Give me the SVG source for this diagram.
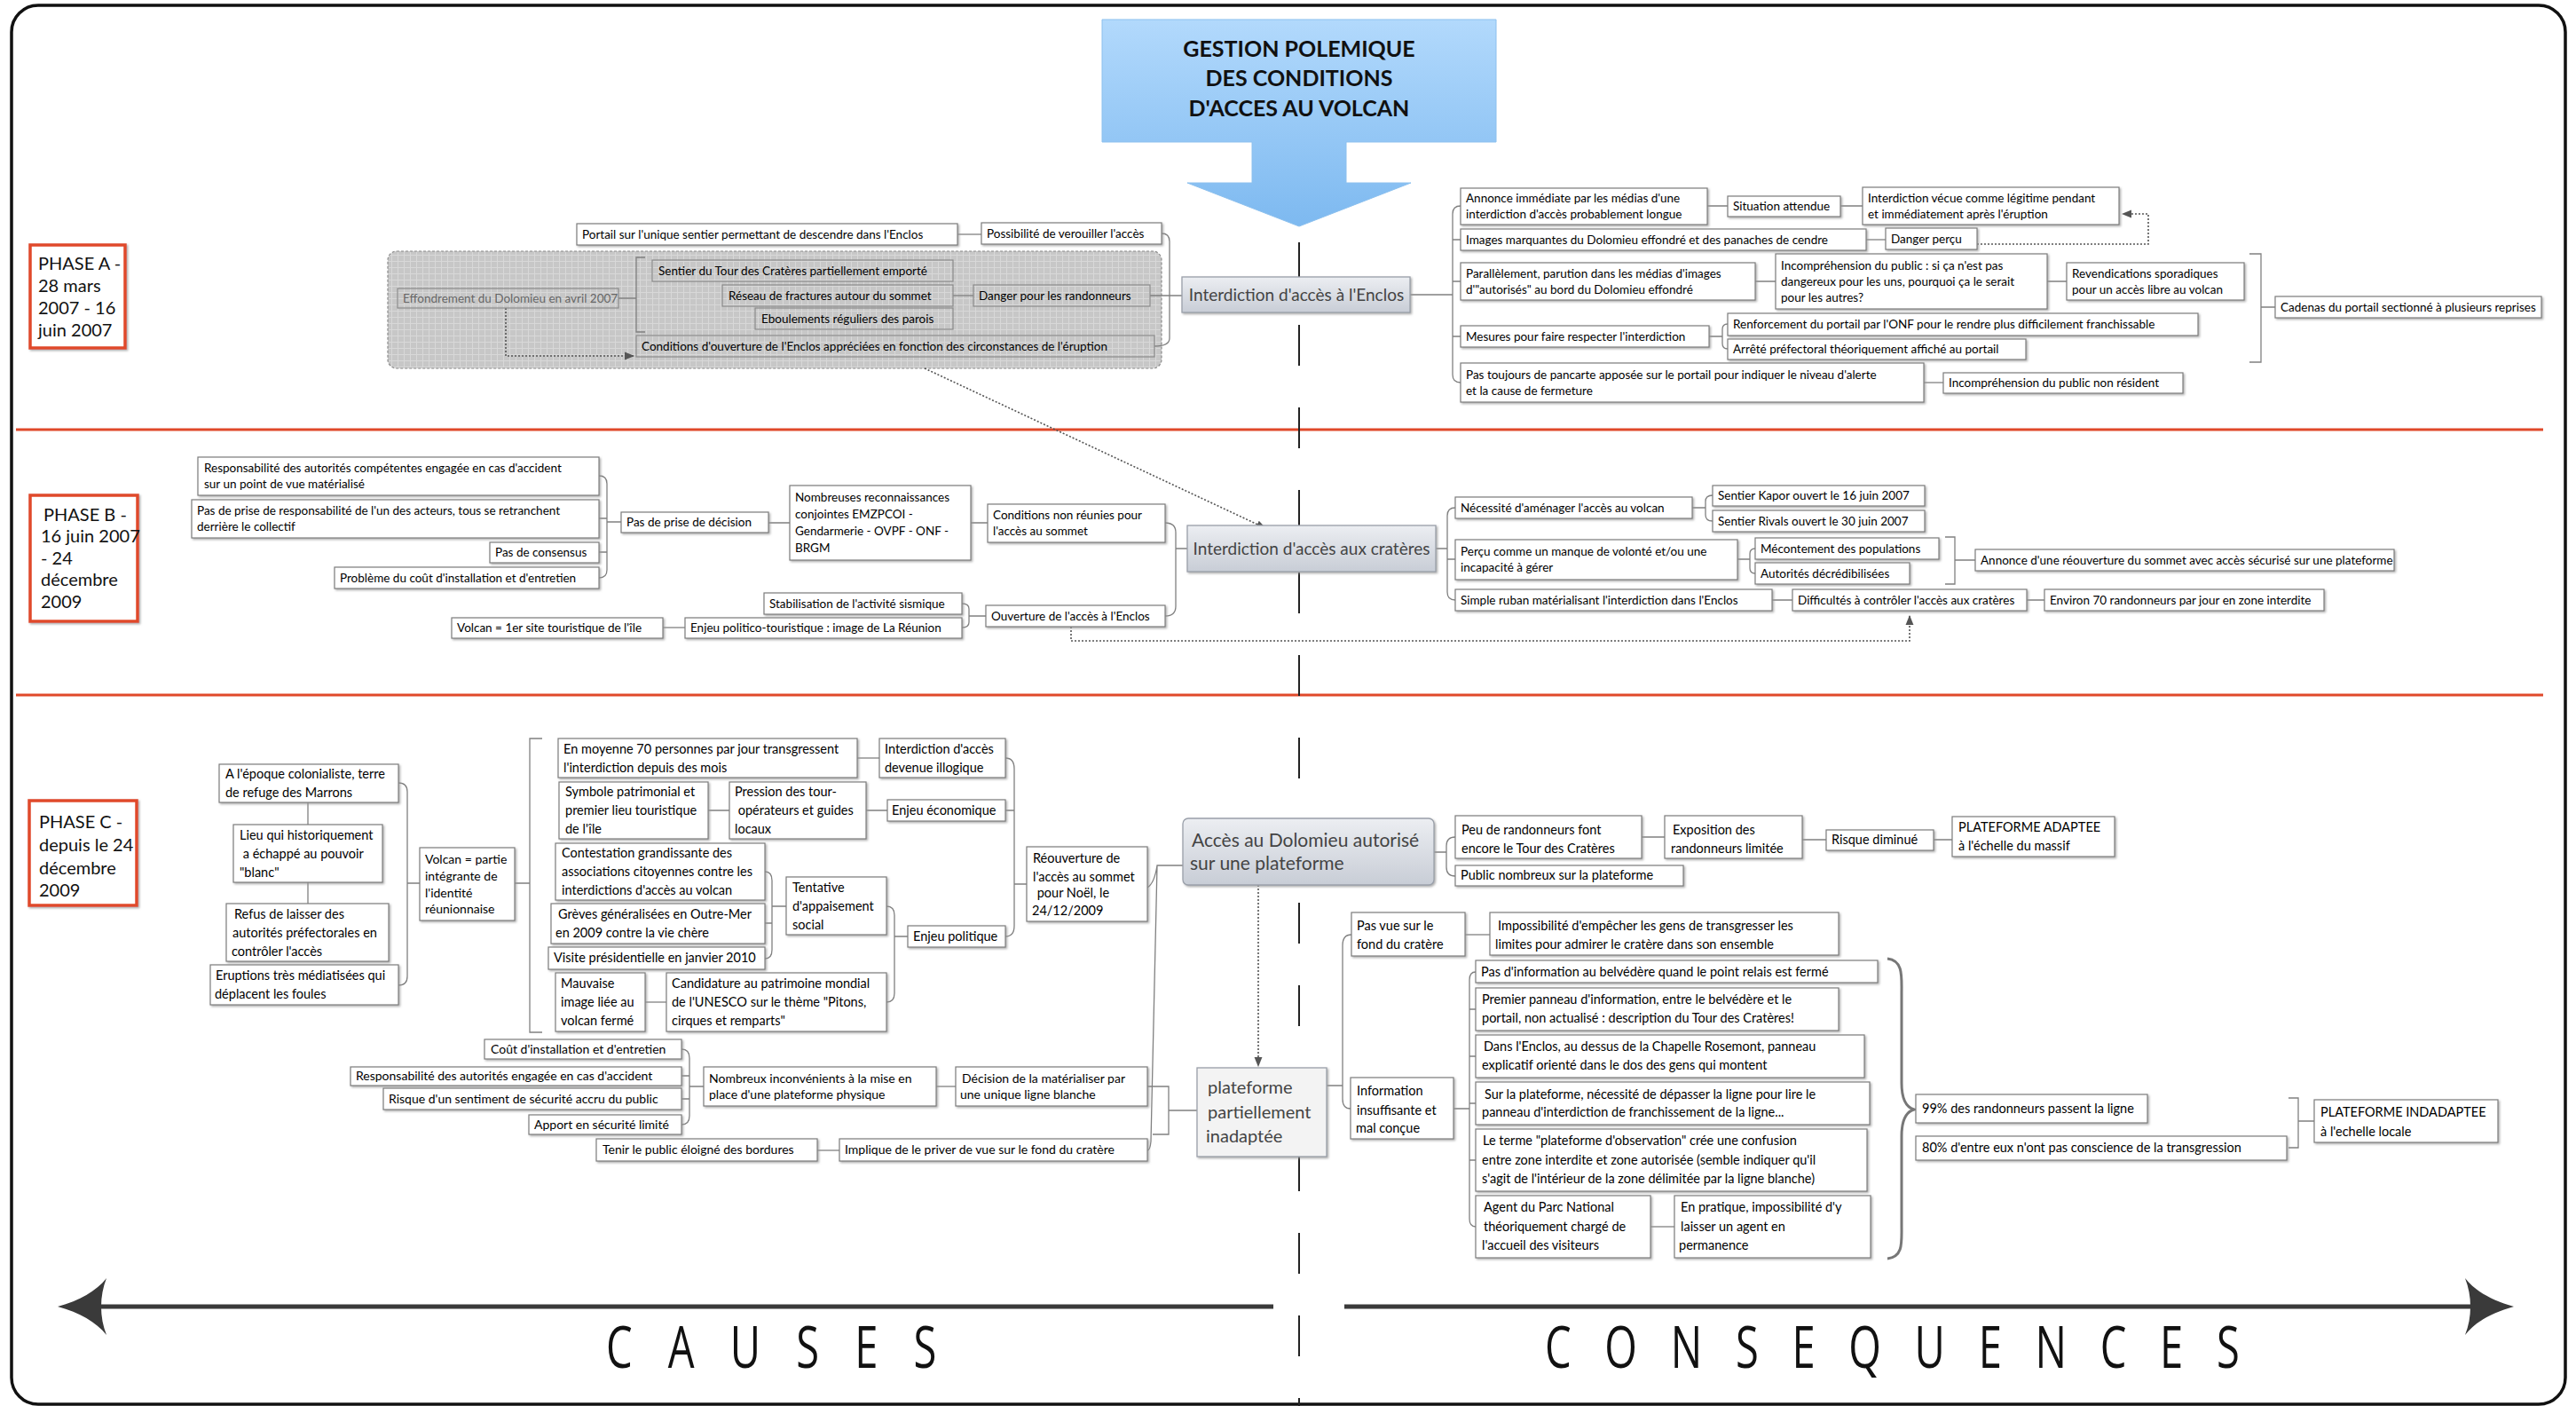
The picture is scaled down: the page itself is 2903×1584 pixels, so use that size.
<svg xmlns="http://www.w3.org/2000/svg" width="2903" height="1584" viewBox="0 0 2903 1584">
<style>
.b{fill:#fff;stroke:#7d7d7d;stroke-width:1.2;filter:url(#sh)}
.g{fill:none;stroke:#8a8a8a;stroke-width:1.2}
.t{font-family:Lato,"Liberation Sans",sans-serif;font-size:13.5px;fill:#000}
.m{font-size:14px}
.l{font-size:14.5px}
.gt{fill:#666}
.c{fill:none;stroke:#808080;stroke-width:1.3}
.d{fill:none;stroke:#555;stroke-width:1.6;stroke-dasharray:2 2}
.ph{fill:#fff;stroke:#e0482a;stroke-width:3.5;filter:url(#sh)}
.pt{font-family:Lato,"Liberation Sans",sans-serif;font-size:20px;fill:#111}
.cn{stroke:#9aa0aa;stroke-width:1.3;filter:url(#sh)}
.ct{font-family:Lato,"Liberation Sans",sans-serif;font-size:19px;fill:#444}
.big{font-family:Lato,"Liberation Sans",sans-serif;font-size:20px;fill:#444}
.red{stroke:#e0492a;stroke-width:3}
.cap{font-family:"Open Sans","Liberation Sans",sans-serif;font-size:62px;fill:#111}
</style>
<defs>
<filter id="sh" x="-5%" y="-10%" width="110%" height="130%"><feDropShadow dx="1.5" dy="1.5" stdDeviation="0.8" flood-color="#999" flood-opacity="0.8"/></filter>
<linearGradient id="bl" x1="0" y1="0" x2="0" y2="1"><stop offset="0" stop-color="#b2d9fc"/><stop offset="1" stop-color="#7db9f0"/></linearGradient>
<linearGradient id="cg" x1="0" y1="0" x2="0" y2="1"><stop offset="0" stop-color="#eceef2"/><stop offset="1" stop-color="#c8cdd6"/></linearGradient>
<pattern id="grid" width="7" height="7" patternUnits="userSpaceOnUse"><rect width="7" height="7" fill="#c7c7c7"/><path d="M0 0.5H7M0.5 0V7" stroke="#d8d8d8" stroke-width="1"/></pattern>
<marker id="ah" viewBox="0 0 10 10" refX="9" refY="5" markerWidth="7" markerHeight="7" orient="auto-start-reverse"><path d="M0,1 L10,5 L0,9 Z" fill="#555"/></marker>
</defs>
<rect width="2903" height="1584" fill="#fff"/>
<rect x="13" y="6" width="2878" height="1576" rx="30" fill="none" stroke="#111" stroke-width="3.5"/>

<!-- separators and axis -->
<g id="axis">
<line x1="18" y1="484" x2="2866" y2="484" class="red"/>
<line x1="18" y1="783" x2="2866" y2="783" class="red"/>
<line x1="1464" y1="273" x2="1464" y2="1584" stroke="#222" stroke-width="2" stroke-dasharray="46 47"/>
<line x1="108" y1="1472" x2="1435" y2="1472" stroke="#3a3a3a" stroke-width="5"/>
<line x1="1515" y1="1472" x2="2790" y2="1472" stroke="#3a3a3a" stroke-width="5"/>
<path d="M65,1472 C90,1465 108,1455 120,1440 C112,1460 112,1484 120,1504 C108,1489 90,1479 65,1472 Z" fill="#3a3a3a"/>
<path d="M2833,1472 C2808,1465 2790,1455 2778,1440 C2786,1460 2786,1484 2778,1504 C2790,1489 2808,1479 2833,1472 Z" fill="#3a3a3a"/>
<text class="cap" transform="translate(683,1541) scale(0.76,1.05)" textLength="490" lengthAdjust="spacing">CAUSES</text>
<text class="cap" transform="translate(1741,1541) scale(0.76,1.05)" textLength="1030" lengthAdjust="spacing">CONSEQUENCES</text>
</g>

<!-- title -->
<g id="title">
<path d="M1242,22 H1686 V160 H1517 V206 H1590 L1464,255 L1338,206 H1411 V160 H1242 Z" fill="url(#bl)" stroke="#8cc0ee" stroke-width="1"/>
<text font-family="Lato,'Liberation Sans',sans-serif" font-weight="bold" font-size="25" fill="#111" text-anchor="middle"><tspan x="1464" y="64">GESTION POLEMIQUE</tspan><tspan x="1464" y="97">DES CONDITIONS</tspan><tspan x="1464" y="131">D'ACCES AU VOLCAN</tspan></text>
</g>

<!-- phase labels -->
<g id="phaseA"><rect class="ph" x="34" y="276" width="107" height="116"/><text class="pt"><tspan x="43" y="304">PHASE A -</tspan><tspan x="43" y="329">28 mars</tspan><tspan x="43" y="354">2007 - 16</tspan><tspan x="43" y="379">juin 2007</tspan></text></g>
<g id="phaseB"><rect class="ph" x="34" y="558" width="121" height="142"/><text class="pt"><tspan x="49" y="587">PHASE B -</tspan><tspan x="46" y="611">16 juin 2007</tspan><tspan x="46" y="636">- 24</tspan><tspan x="46" y="660">décembre</tspan><tspan x="46" y="685">2009</tspan></text></g>
<g id="phaseC"><rect class="ph" x="33" y="902" width="121" height="118"/><text class="pt"><tspan x="44" y="933">PHASE C -</tspan><tspan x="44" y="959">depuis le 24</tspan><tspan x="44" y="985">décembre</tspan><tspan x="44" y="1010">2009</tspan></text></g>

<!-- gray group region -->
<rect id="grayzone" x="437" y="283" width="872" height="132" rx="10" fill="url(#grid)" stroke="#8a8a8a" stroke-width="1.2" stroke-dasharray="3 2"/>

<!-- connectors -->
<g id="connectors">
<path class="c" d="M697,336 H717 M727,290 H717 V374 H727"/>
<path class="d" d="M570,347 V401 H714" marker-end="url(#ah)"/>
<path class="c" d="M1079,264 H1106"/>
<path class="c" d="M1074,333 H1097"/>
<path class="c" d="M1309,263 Q1318,263 1318,272 V381 Q1318,390 1301,390 M1296,333 H1332"/>
<path class="c" d="M1589,332 H1637 M1646,232 Q1637,232 1637,241 V422 Q1637,431 1646,431 M1637,270 H1646 M1637,317 H1646 M1637,379 H1646"/>
<path class="c" d="M1924,232 H1947 M2074,232 H2099"/>
<path class="c" d="M2103,270 H2125"/>
<path class="d" d="M2228,275 H2421 V241 H2392" marker-end="url(#ah)"/>
<path class="c" d="M1978,317 H2001 M2307,317 H2329"/>
<path class="c" d="M2535,286 H2548 V408 H2535 M2548,346 H2564"/>
<path class="c" d="M1926,379 H1941 M1947,365 Q1941,365 1941,371 V387 Q1941,393 1947,393"/>
<path class="c" d="M2168,431 H2190"/>
<path class="d" d="M1042,415 L1426,595" marker-end="url(#ah)"/>
<path class="c" d="M675,536 Q684,536 684,545 V642 Q684,651 675,651 M675,584 H684 M675,622 H684 M684,588 H700"/>
<path class="c" d="M866,589 H890 M1094,589 H1113"/>
<path class="c" d="M747,707 H772"/>
<path class="c" d="M1084,680 Q1092,680 1092,686 V701 Q1092,707 1084,707 M1092,694 H1111"/>
<path class="c" d="M1313,589 Q1325,589 1325,600 V683 Q1325,694 1313,694 M1325,618 H1338"/>
<path class="d" d="M1207,706 V722 H2152 V694" marker-end="url(#ah)"/>
<path class="c" d="M1618,618 H1631 M1640,572 Q1631,572 1631,581 V667 Q1631,676 1640,676 M1631,630 H1640"/>
<path class="c" d="M1907,572 H1922 M1930,558 Q1922,558 1922,565 V580 Q1922,587 1930,587"/>
<path class="c" d="M1958,630 H1972 M1978,618 Q1972,618 1972,624 V640 Q1972,646 1978,646"/>
<path class="c" d="M2192,605 H2203 V658 H2192 M2203,631 H2226"/>
<path class="c" d="M1997,676 H2020 M2284,676 H2304"/>
<path class="c" d="M347,904 V929 M347,994 V1018"/>
<path class="c" d="M449,882 Q459,882 459,892 V1100 Q459,1110 449,1110 M459,995 H473"/>
<path class="c" d="M580,995 H597 M611,832 H597 V1163 H611"/>
<path class="c" d="M966,854 H991"/>
<path class="c" d="M798,913 H822 M976,913 H1000"/>
<path class="c" d="M862,982 Q870,982 870,992 V1070 Q870,1080 862,1080 M862,1040 H870 M870,1021 H886"/>
<path class="c" d="M727,1129 H751"/>
<path class="c" d="M999,1021 Q1008,1021 1008,1031 V1119 Q1008,1129 999,1129 M1008,1055 H1023"/>
<path class="c" d="M1133,854 Q1143,854 1143,866 V1043 Q1143,1055 1133,1055 M1133,913 H1143 M1143,996 H1157"/>
<path class="c" d="M1293,1000 Q1301,995 1304,975 H1333 M1304,975 L1297,1286 Q1296,1296 1293,1296"/>
<path class="c" d="M768,1182 Q777,1182 777,1192 V1257 Q777,1267 768,1267 M768,1212 H777 M768,1238 H777 M777,1224 H793"/>
<path class="c" d="M1055,1224 H1077"/>
<path class="c" d="M1293,1224 H1317 V1278 H1299 M1317,1251 H1349"/>
<path class="c" d="M921,1296 H946"/>
<path class="c" d="M1616,960 H1630 M1640,943 Q1630,943 1630,953 V977 Q1630,987 1640,987"/>
<path class="c" d="M1850,943 H1876 M2031,946 H2058 M2179,946 H2200"/>
<path class="d" d="M1418,997 V1201" marker-end="url(#ah)"/>
<path class="c" d="M1495,1223 H1513 M1523,1053 Q1513,1053 1513,1065 V1238 Q1513,1249 1522,1249"/>
<path class="c" d="M1651,1053 H1679"/>
<path class="c" d="M1638,1249 H1656 M1663,1095 Q1656,1095 1656,1104 V1373 Q1656,1382 1663,1382 M1656,1137 H1663 M1656,1190 H1663 M1656,1243 H1663 M1656,1307 H1663"/>
<path class="c" d="M1860,1382 H1887"/>
<path d="M2127,1080 C2145,1082 2143,1100 2143,1120 V1220 C2143,1240 2150,1248 2157,1250 C2150,1252 2143,1260 2143,1280 V1380 C2143,1400 2145,1416 2127,1418" fill="none" stroke="#777" stroke-width="3"/>
<path class="c" d="M2579,1237 H2590 V1293 H2579 M2590,1263 H2608"/>
</g>

<!-- PHASE A nodes -->
<g id="nA1"><rect class="b" x="650" y="252" width="429" height="24"/><text class="t" x="656" y="269">Portail sur l'unique sentier permettant de descendre dans l'Enclos</text></g>
<g id="nA2"><rect class="b" x="1106" y="251" width="203" height="24"/><text class="t" x="1112" y="268">Possibilité de verouiller l'accès</text></g>
<g id="nA3"><rect class="g" x="448" y="325" width="249" height="22"/><text class="t gt" x="454" y="341">Effondrement du Dolomieu en avril 2007</text></g>
<g id="nA4"><rect class="g" x="735" y="293" width="339" height="24"/><text class="t" x="742" y="310">Sentier du Tour des Cratères partiellement emporté</text></g>
<g id="nA5"><rect class="g" x="814" y="321" width="260" height="24"/><text class="t" x="821" y="338">Réseau de fractures autour du sommet</text></g>
<g id="nA6"><rect class="g" x="851" y="347" width="223" height="24"/><text class="t" x="858" y="364">Eboulements réguliers des parois</text></g>
<g id="nA7"><rect class="g" x="1097" y="321" width="199" height="24"/><text class="t" x="1103" y="338">Danger pour les randonneurs</text></g>
<g id="nA8"><rect class="g" x="717" y="378" width="584" height="24"/><text class="t" x="723" y="395">Conditions d'ouverture de l'Enclos appréciées en fonction des circonstances de l'éruption</text></g>
<g id="centerA"><rect class="cn" x="1332" y="312" width="257" height="40" fill="url(#cg)"/><text class="ct" x="1461" y="339" text-anchor="middle">Interdiction d'accès à l'Enclos</text></g>
<g id="nA9"><rect class="b" x="1646" y="212" width="278" height="41"/><text class="t"><tspan x="1652" y="228">Annonce immédiate par les médias d'une</tspan><tspan x="1652" y="246">interdiction d'accès probablement longue</tspan></text></g>
<g id="nA10"><rect class="b" x="1947" y="221" width="127" height="23"/><text class="t" x="1953" y="237">Situation attendue</text></g>
<g id="nA11"><rect class="b" x="2099" y="211" width="289" height="42"/><text class="t"><tspan x="2105" y="228">Interdiction vécue comme légitime pendant</tspan><tspan x="2105" y="246">et immédiatement après l'éruption</tspan></text></g>
<g id="nA12"><rect class="b" x="1646" y="258" width="457" height="24"/><text class="t" x="1652" y="275">Images marquantes du Dolomieu effondré et des panaches de cendre</text></g>
<g id="nA13"><rect class="b" x="2125" y="257" width="103" height="24"/><text class="t" x="2131" y="274">Danger perçu</text></g>
<g id="nA14"><rect class="b" x="1646" y="296" width="332" height="42"/><text class="t"><tspan x="1652" y="313">Parallèlement, parution dans les médias d'images</tspan><tspan x="1652" y="331">d'"autorisés" au bord du Dolomieu effondré</tspan></text></g>
<g id="nA15"><rect class="b" x="2001" y="286" width="306" height="62"/><text class="t"><tspan x="2007" y="304">Incompréhension du public : si ça n'est pas</tspan><tspan x="2007" y="322">dangereux pour les uns, pourquoi ça le serait</tspan><tspan x="2007" y="340">pour les autres?</tspan></text></g>
<g id="nA16"><rect class="b" x="2329" y="296" width="200" height="42"/><text class="t"><tspan x="2335" y="313">Revendications sporadiques</tspan><tspan x="2335" y="331">pour un accès libre au volcan</tspan></text></g>
<g id="nA17"><rect class="b" x="2564" y="334" width="300" height="24"/><text class="t" x="2570" y="351">Cadenas du portail sectionné à plusieurs reprises</text></g>
<g id="nA18"><rect class="b" x="1646" y="367" width="280" height="24"/><text class="t" x="1652" y="384">Mesures pour faire respecter l'interdiction</text></g>
<g id="nA19"><rect class="b" x="1947" y="353" width="530" height="25"/><text class="t" x="1953" y="370">Renforcement du portail par l'ONF pour le rendre plus difficilement franchissable</text></g>
<g id="nA20"><rect class="b" x="1947" y="382" width="336" height="23"/><text class="t" x="1953" y="398">Arrêté préfectoral théoriquement affiché au portail</text></g>
<g id="nA21"><rect class="b" x="1646" y="409" width="522" height="44"/><text class="t"><tspan x="1652" y="427">Pas toujours de pancarte apposée sur le portail pour indiquer le niveau d'alerte</tspan><tspan x="1652" y="445">et la cause de fermeture</tspan></text></g>
<g id="nA22"><rect class="b" x="2190" y="420" width="270" height="23"/><text class="t" x="2196" y="436">Incompréhension du public non résident</text></g>

<!-- PHASE B nodes -->
<g id="nB1"><rect class="b" x="223" y="515" width="452" height="43"/><text class="t"><tspan x="230" y="532">Responsabilité des autorités compétentes engagée en cas d'accident</tspan><tspan x="230" y="550">sur un point de vue matérialisé</tspan></text></g>
<g id="nB2"><rect class="b" x="216" y="563" width="459" height="43"/><text class="t"><tspan x="222" y="580">Pas de prise de responsabilité de l'un des acteurs, tous se retranchent</tspan><tspan x="222" y="598">derrière le collectif</tspan></text></g>
<g id="nB3"><rect class="b" x="552" y="611" width="123" height="23"/><text class="t" x="558" y="627">Pas de consensus</text></g>
<g id="nB4"><rect class="b" x="377" y="639" width="298" height="24"/><text class="t" x="383" y="656">Problème du coût d'installation et d'entretien</text></g>
<g id="nB5"><rect class="b" x="700" y="577" width="166" height="23"/><text class="t" x="706" y="593">Pas de prise de décision</text></g>
<g id="nB6"><rect class="b" x="890" y="547" width="204" height="84"/><text class="t"><tspan x="896" y="565">Nombreuses reconnaissances</tspan><tspan x="896" y="584">conjointes EMZPCOI -</tspan><tspan x="896" y="603">Gendarmerie - OVPF - ONF -</tspan><tspan x="896" y="622">BRGM</tspan></text></g>
<g id="nB7"><rect class="b" x="1113" y="568" width="200" height="43"/><text class="t"><tspan x="1119" y="585">Conditions non réunies pour</tspan><tspan x="1119" y="603">l'accès au sommet</tspan></text></g>
<g id="nB8"><rect class="b" x="861" y="668" width="223" height="24"/><text class="t" x="867" y="685">Stabilisation de l'activité sismique</text></g>
<g id="nB9"><rect class="b" x="772" y="696" width="312" height="23"/><text class="t" x="778" y="712">Enjeu politico-touristique : image de La Réunion</text></g>
<g id="nB10"><rect class="b" x="509" y="696" width="238" height="23"/><text class="t" x="515" y="712">Volcan = 1er site touristique de l'île</text></g>
<g id="nB11"><rect class="b" x="1111" y="682" width="202" height="24"/><text class="t" x="1117" y="699">Ouverture de l'accès à l'Enclos</text></g>
<g id="centerB"><rect class="cn" x="1338" y="592" width="280" height="52" fill="url(#cg)"/><text class="ct" x="1478" y="625" text-anchor="middle">Interdiction d'accès aux cratères</text></g>
<g id="nB12"><rect class="b" x="1640" y="560" width="267" height="24"/><text class="t" x="1646" y="577">Nécessité d'aménager l'accès au volcan</text></g>
<g id="nB13"><rect class="b" x="1930" y="547" width="239" height="23"/><text class="t" x="1936" y="563">Sentier Kapor ouvert le 16 juin 2007</text></g>
<g id="nB14"><rect class="b" x="1930" y="575" width="239" height="24"/><text class="t" x="1936" y="592">Sentier Rivals ouvert le 30 juin 2007</text></g>
<g id="nB15"><rect class="b" x="1640" y="608" width="318" height="45"/><text class="t"><tspan x="1646" y="626">Perçu comme un manque de volonté et/ou une</tspan><tspan x="1646" y="644">incapacité à gérer</tspan></text></g>
<g id="nB16"><rect class="b" x="1978" y="606" width="207" height="24"/><text class="t" x="1984" y="623">Mécontement des populations</text></g>
<g id="nB17"><rect class="b" x="1978" y="634" width="174" height="24"/><text class="t" x="1984" y="651">Autorités décrédibilisées</text></g>
<g id="nB18"><rect class="b" x="2226" y="619" width="472" height="24"/><text class="t" x="2232" y="636">Annonce d'une réouverture du sommet avec accès sécurisé sur une plateforme</text></g>
<g id="nB19"><rect class="b" x="1640" y="664" width="357" height="24"/><text class="t" x="1646" y="681">Simple ruban matérialisant l'interdiction dans l'Enclos</text></g>
<g id="nB20"><rect class="b" x="2020" y="664" width="264" height="24"/><text class="t" x="2026" y="681">Difficultés à contrôler l'accès aux cratères</text></g>
<g id="nB21"><rect class="b" x="2304" y="664" width="315" height="24"/><text class="t" x="2310" y="681">Environ 70 randonneurs par jour en zone interdite</text></g>

<!-- PHASE C left nodes -->
<g id="nC1"><rect class="b" x="247" y="861" width="202" height="43"/><text class="t l"><tspan x="254" y="877">A l'époque colonialiste, terre</tspan><tspan x="254" y="898">de refuge des Marrons</tspan></text></g>
<g id="nC2"><rect class="b" x="263" y="929" width="168" height="65"/><text class="t l"><tspan x="270" y="946">Lieu qui historiquement</tspan><tspan x="270" y="967"> a échappé au pouvoir</tspan><tspan x="270" y="988">"blanc"</tspan></text></g>
<g id="nC3"><rect class="b" x="255" y="1018" width="183" height="65"/><text class="t l"><tspan x="264" y="1035">Refus de laisser des</tspan><tspan x="262" y="1056">autorités préfectorales en</tspan><tspan x="261" y="1077">contrôler l'accès</tspan></text></g>
<g id="nC4"><rect class="b" x="237" y="1087" width="212" height="45"/><text class="t l"><tspan x="243" y="1104">Eruptions très médiatisées qui</tspan><tspan x="242" y="1125">déplacent les foules</tspan></text></g>
<g id="nC5"><rect class="b" x="473" y="955" width="107" height="82"/><text class="t m"><tspan x="479" y="973">Volcan = partie</tspan><tspan x="479" y="992">intégrante de</tspan><tspan x="479" y="1011">l'identité</tspan><tspan x="479" y="1029">réunionnaise</tspan></text></g>
<g id="nC6"><rect class="b" x="629" y="832" width="337" height="44"/><text class="t l"><tspan x="635" y="849">En moyenne 70 personnes par jour transgressent</tspan><tspan x="635" y="870">l'interdiction depuis des mois</tspan></text></g>
<g id="nC7"><rect class="b" x="991" y="832" width="142" height="44"/><text class="t l"><tspan x="997" y="849">Interdiction d'accès</tspan><tspan x="997" y="870">devenue illogique</tspan></text></g>
<g id="nC8"><rect class="b" x="630" y="881" width="168" height="64"/><text class="t l"><tspan x="637" y="897">Symbole patrimonial et</tspan><tspan x="637" y="918">premier lieu touristique</tspan><tspan x="637" y="939">de l'île</tspan></text></g>
<g id="nC9"><rect class="b" x="822" y="881" width="154" height="64"/><text class="t l"><tspan x="828" y="897">Pression des tour-</tspan><tspan x="828" y="918"> opérateurs et guides</tspan><tspan x="828" y="939">locaux</tspan></text></g>
<g id="nC10"><rect class="b" x="1000" y="901" width="133" height="24"/><text class="t l" x="1005" y="918">Enjeu économique</text></g>
<g id="nC11"><rect class="b" x="626" y="950" width="236" height="64"/><text class="t l"><tspan x="633" y="966">Contestation grandissante des</tspan><tspan x="633" y="987">associations citoyennes contre les</tspan><tspan x="633" y="1008">interdictions d'accès au volcan</tspan></text></g>
<g id="nC12"><rect class="b" x="621" y="1018" width="241" height="45"/><text class="t l"><tspan x="629" y="1035">Grèves généralisées en Outre-Mer</tspan><tspan x="626" y="1056">en 2009 contre la vie chère</tspan></text></g>
<g id="nC13"><rect class="b" x="618" y="1067" width="244" height="25"/><text class="t l" x="624" y="1084">Visite présidentielle en janvier 2010</text></g>
<g id="nC14"><rect class="b" x="886" y="988" width="113" height="65"/><text class="t l"><tspan x="893" y="1005">Tentative</tspan><tspan x="893" y="1026">d'appaisement</tspan><tspan x="893" y="1047">social</tspan></text></g>
<g id="nC15"><rect class="b" x="1023" y="1043" width="110" height="24"/><text class="t l" x="1029" y="1060">Enjeu politique</text></g>
<g id="nC16"><rect class="b" x="626" y="1096" width="101" height="66"/><text class="t l"><tspan x="632" y="1113">Mauvaise</tspan><tspan x="632" y="1134">image liée au</tspan><tspan x="632" y="1155">volcan fermé</tspan></text></g>
<g id="nC17"><rect class="b" x="751" y="1096" width="248" height="66"/><text class="t l"><tspan x="757" y="1113">Candidature au patrimoine mondial</tspan><tspan x="757" y="1134">de l'UNESCO sur le thème "Pitons,</tspan><tspan x="757" y="1155">cirques et remparts"</tspan></text></g>
<g id="nC18"><rect class="b" x="1157" y="954" width="136" height="84"/><text class="t l"><tspan x="1164" y="972">Réouverture de</tspan><tspan x="1164" y="993">l'accès au sommet</tspan><tspan x="1165" y="1011"> pour Noël, le</tspan><tspan x="1163" y="1031">24/12/2009</tspan></text></g>
<g id="nC19"><rect class="b" x="546" y="1171" width="222" height="22"/><text class="t m" x="553" y="1187">Coût d'installation et d'entretien</text></g>
<g id="nC20"><rect class="b" x="395" y="1202" width="373" height="21"/><text class="t m" x="401" y="1217">Responsabilité des autorités engagée en cas d'accident</text></g>
<g id="nC21"><rect class="b" x="432" y="1226" width="336" height="24"/><text class="t m" x="438" y="1243">Risque d'un sentiment de sécurité accru du public</text></g>
<g id="nC22"><rect class="b" x="596" y="1256" width="172" height="22"/><text class="t m" x="602" y="1272">Apport en sécurité limité</text></g>
<g id="nC23"><rect class="b" x="793" y="1202" width="262" height="44"/><text class="t m"><tspan x="799" y="1220">Nombreux inconvénients à la mise en</tspan><tspan x="799" y="1238">place d'une plateforme physique</tspan></text></g>
<g id="nC24"><rect class="b" x="1077" y="1202" width="216" height="44"/><text class="t m"><tspan x="1084" y="1220">Décision de la matérialiser par</tspan><tspan x="1082" y="1238">une unique ligne blanche</tspan></text></g>
<g id="nC25"><rect class="b" x="672" y="1283" width="249" height="25"/><text class="t m" x="679" y="1300">Tenir le public éloigné des bordures</text></g>
<g id="nC26"><rect class="b" x="946" y="1283" width="347" height="25"/><text class="t m" x="952" y="1300">Implique de le priver de vue sur le fond  du cratère</text></g>

<!-- PHASE C right nodes -->
<g id="centerC"><rect class="cn" x="1333" y="922" width="283" height="75" rx="6" fill="url(#cg)"/><text class="big" style="font-size:21px"><tspan x="1343" y="954">Accès au Dolomieu autorisé</tspan><tspan x="1341" y="980">sur une plateforme</tspan></text></g>
<g id="nC27"><rect class="b" x="1640" y="919" width="210" height="48"/><text class="t l"><tspan x="1647" y="940">Peu de randonneurs font</tspan><tspan x="1647" y="961">encore le Tour des Cratères</tspan></text></g>
<g id="nC28"><rect class="b" x="1876" y="919" width="155" height="48"/><text class="t l"><tspan x="1885" y="940">Exposition des</tspan><tspan x="1883" y="961">randonneurs limitée</tspan></text></g>
<g id="nC29"><rect class="b" x="2058" y="935" width="121" height="23"/><text class="t l" x="2064" y="951">Risque diminué</text></g>
<g id="nC30"><rect class="b" x="2200" y="920" width="183" height="45"/><text class="t l"><tspan x="2207" y="937">PLATEFORME ADAPTEE</tspan><tspan x="2207" y="958">à l'échelle du massif</tspan></text></g>
<g id="nC31"><rect class="b" x="1640" y="975" width="257" height="23"/><text class="t l" x="1646" y="991">Public nombreux sur la plateforme</text></g>
<g id="plateforme"><rect class="cn" x="1349" y="1203" width="146" height="100" fill="#f3f3f3"/><text class="big"><tspan x="1361" y="1232">plateforme</tspan><tspan x="1361" y="1260">partiellement</tspan><tspan x="1359" y="1287">inadaptée</tspan></text></g>
<g id="nC32"><rect class="b" x="1523" y="1028" width="128" height="49"/><text class="t l"><tspan x="1529" y="1048">Pas vue sur le</tspan><tspan x="1529" y="1069">fond du cratère</tspan></text></g>
<g id="nC33"><rect class="b" x="1679" y="1028" width="393" height="48"/><text class="t l"><tspan x="1688" y="1048">Impossibilité d'empêcher les gens de transgresser les</tspan><tspan x="1685" y="1069">limites pour admirer le cratère dans son ensemble</tspan></text></g>
<g id="nC34"><rect class="b" x="1522" y="1214" width="116" height="69"/><text class="t l"><tspan x="1529" y="1234">Information</tspan><tspan x="1529" y="1256">insuffisante et</tspan><tspan x="1528" y="1276">mal conçue</tspan></text></g>
<g id="nC35"><rect class="b" x="1663" y="1082" width="453" height="25"/><text class="t l" x="1669" y="1100">Pas d'information au belvédère quand le point relais est fermé</text></g>
<g id="nC36"><rect class="b" x="1663" y="1113" width="409" height="48"/><text class="t l"><tspan x="1670" y="1131">Premier panneau d'information, entre le belvédère et le</tspan><tspan x="1670" y="1152">portail, non actualisé : description du Tour des Cratères!</tspan></text></g>
<g id="nC37"><rect class="b" x="1663" y="1166" width="438" height="48"/><text class="t l"><tspan x="1672" y="1184">Dans l'Enclos, au dessus de la Chapelle Rosemont, panneau</tspan><tspan x="1670" y="1205">explicatif orienté dans le dos des gens qui montent</tspan></text></g>
<g id="nC38"><rect class="b" x="1663" y="1219" width="444" height="48"/><text class="t l"><tspan x="1673" y="1238">Sur la plateforme, nécessité de dépasser la ligne pour lire le</tspan><tspan x="1670" y="1258">panneau d'interdiction de franchissement de la ligne...</tspan></text></g>
<g id="nC39"><rect class="b" x="1663" y="1272" width="441" height="70"/><text class="t l"><tspan x="1671" y="1290">Le terme  "plateforme d'observation" crée une confusion</tspan><tspan x="1670" y="1312">entre zone interdite et zone autorisée (semble indiquer qu'il</tspan><tspan x="1670" y="1333">s'agit de l'intérieur de la zone délimitée par la ligne blanche)</tspan></text></g>
<g id="nC40"><rect class="b" x="1663" y="1347" width="197" height="70"/><text class="t l"><tspan x="1672" y="1365">Agent du Parc National</tspan><tspan x="1672" y="1387">théoriquement chargé de</tspan><tspan x="1670" y="1408">l'accueil des visiteurs</tspan></text></g>
<g id="nC41"><rect class="b" x="1887" y="1347" width="221" height="70"/><text class="t l"><tspan x="1894" y="1365">En pratique, impossibilité d'y</tspan><tspan x="1894" y="1387">laisser un agent en</tspan><tspan x="1892" y="1408">permanence</tspan></text></g>
<g id="nC42"><rect class="b" x="2159" y="1233" width="261" height="32"/><text class="t l" x="2166" y="1254">99% des randonneurs passent la ligne</text></g>
<g id="nC43"><rect class="b" x="2159" y="1280" width="418" height="27"/><text class="t l" x="2166" y="1298">80% d'entre eux n'ont pas conscience de la transgression</text></g>
<g id="nC44"><rect class="b" x="2608" y="1239" width="207" height="48"/><text class="t l"><tspan x="2615" y="1258">PLATEFORME INDADAPTEE</tspan><tspan x="2615" y="1280">à l'echelle locale</tspan></text></g>
</svg>
